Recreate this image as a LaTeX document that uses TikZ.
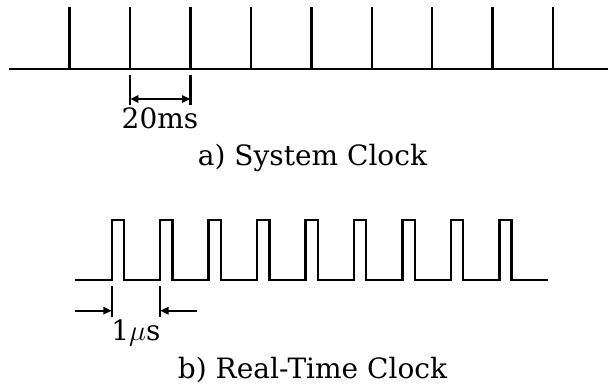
\documentclass[tikz,border=0pt]{standalone}
\usepackage{fontspec}
\setmainfont{DejaVu Serif}
\usetikzlibrary{arrows.meta}
\begin{document}
\begin{tikzpicture}[x=0.5pt,y=-0.5pt,
  sig/.style={line width=1.2pt},
  dimbar/.style={line width=1.1pt},
  dimarrow/.style={line width=1.1pt},
  lbl/.style={font=\fontsize{14pt}{17pt}\selectfont, inner sep=0pt, anchor=base}]
\useasboundingbox (0,0) rectangle (608,385);
% ---- a) System Clock ----
\coordinate (aL) at (9,69);
\coordinate (aR) at (608,69);
\draw[sig] (aL) -- (aR);
\foreach \i in {0,...,8}{
  \draw[sig] ({69.5+60.45*\i},69) -- ({69.5+60.45*\i},7.5);
}
\coordinate (d1t) at (130,75);   \coordinate (d1b) at (130,105);
\coordinate (d2t) at (190.4,75); \coordinate (d2b) at (190.4,105);
\draw[dimbar] (d1t) -- (d1b);
\draw[dimbar] (d2t) -- (d2b);
\coordinate (d1a) at (130,99); \coordinate (d2a) at (190.4,99);
\draw[dimarrow,{Triangle[length=4.2pt,width=3.6pt]}-{Triangle[length=4.2pt,width=3.6pt]}] (d1a) -- (d2a);
\node[lbl] (t20) at (160,128) {20ms};
\node[lbl] (capa) at (312.5,165) {a) System Clock};
% ---- b) Real-Time Clock ----
\draw[sig] (75,280) \foreach \i in {0,...,8}{
   -- ({111.7+48.45*\i},280) -- ++(0,-60) -- ++(12.3,0) -- ++(0,60)} -- (548,280);
\coordinate (e1t) at (111.7,286);  \coordinate (e1b) at (111.7,317);
\coordinate (e2t) at (160.15,286); \coordinate (e2b) at (160.15,317);
\draw[dimbar] (e1t) -- (e1b);
\draw[dimbar] (e2t) -- (e2b);
\coordinate (e1s) at (75,310.7);    \coordinate (e1a) at (111.7,310.7);
\coordinate (e2s) at (196.7,310.7); \coordinate (e2a) at (160.15,310.7);
\draw[dimarrow,-{Triangle[length=4.2pt,width=3.6pt]}] (e1s) -- (e1a);
\draw[dimarrow,-{Triangle[length=4.2pt,width=3.6pt]}] (e2s) -- (e2a);
\node[lbl] (t1us) at (136,340) {1$\mu$s};
\node[lbl] (capb) at (312.5,378) {b) Real-Time Clock};
\end{tikzpicture}
\end{document}
